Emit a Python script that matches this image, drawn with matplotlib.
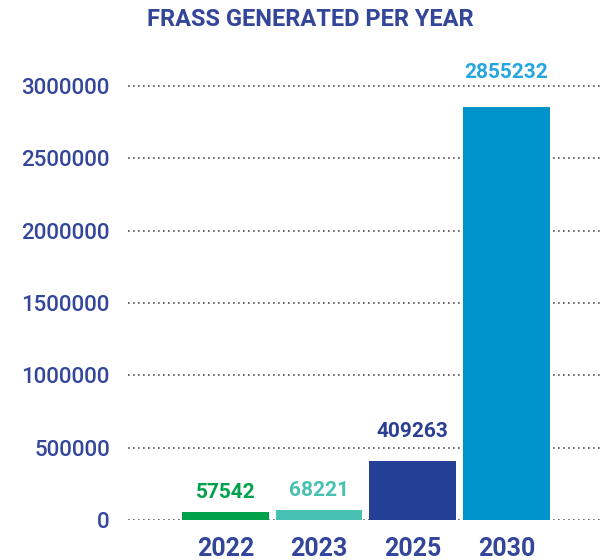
import matplotlib
matplotlib.use("Agg")
import matplotlib.pyplot as plt

years = ["2022", "2023", "2025", "2030"]
frass = [57542, 68221, 409263, 2855232]
bar_colors = ["#00a14b", "#47c1b1", "#233f96", "#0094cc"]
label_colors = ["#00a14b", "#47c1b1", "#2b3f92", "#27a6dd"]
label_offsets = [7, 7, 14, 18]  # points above bar top
yticks = [0, 500000, 1000000, 1500000, 2000000, 2500000, 3000000]

navy = "#34469a"
plt.rcParams["font.family"] = ["Roboto", "DejaVu Sans"]

fig = plt.figure(figsize=(6, 5.6), dpi=100)
ax = fig.add_axes([128 / 600, 40 / 560, 1 - 128 / 600, 460 / 560])

x = range(len(years))
bars = ax.bar(x, frass, width=0.925, color=bar_colors, zorder=2)

for rect, val, c, off in zip(bars, frass, label_colors, label_offsets):
    ax.annotate(str(val), (rect.get_x() + rect.get_width() / 2, rect.get_height()),
                xytext=(0, off), textcoords="offset points", ha="center", va="bottom",
                fontsize=15, fontweight="bold", color=c)

ax.set_xlim(-1.04, 4.0)
ax.set_ylim(0, 3180000)
ax.set_yticks(yticks)
ax.set_yticklabels([str(v) for v in yticks])
ax.set_xticks(list(x))
ax.set_xticklabels(years)
ax.yaxis.grid(True, linestyle=(0, (1, 2)), color="#555555", linewidth=1.2, zorder=0)
ax.set_axisbelow(True)
for s in ax.spines.values():
    s.set_visible(False)
ax.tick_params(axis="y", length=0, pad=13, labelsize=16, labelcolor=navy)
ax.tick_params(axis="x", length=0, pad=12, labelsize=18, labelcolor=navy)
for t in ax.get_xticklabels():
    t.set_fontweight("bold")
for t in ax.get_yticklabels():
    t.set_fontweight("medium")

fig.text(310 / 600, 1 - 19 / 560, "FRASS GENERATED PER YEAR", ha="center", va="center",
         fontsize=17, fontweight="bold", color=navy)

fig.savefig("out.png", dpi=100)
